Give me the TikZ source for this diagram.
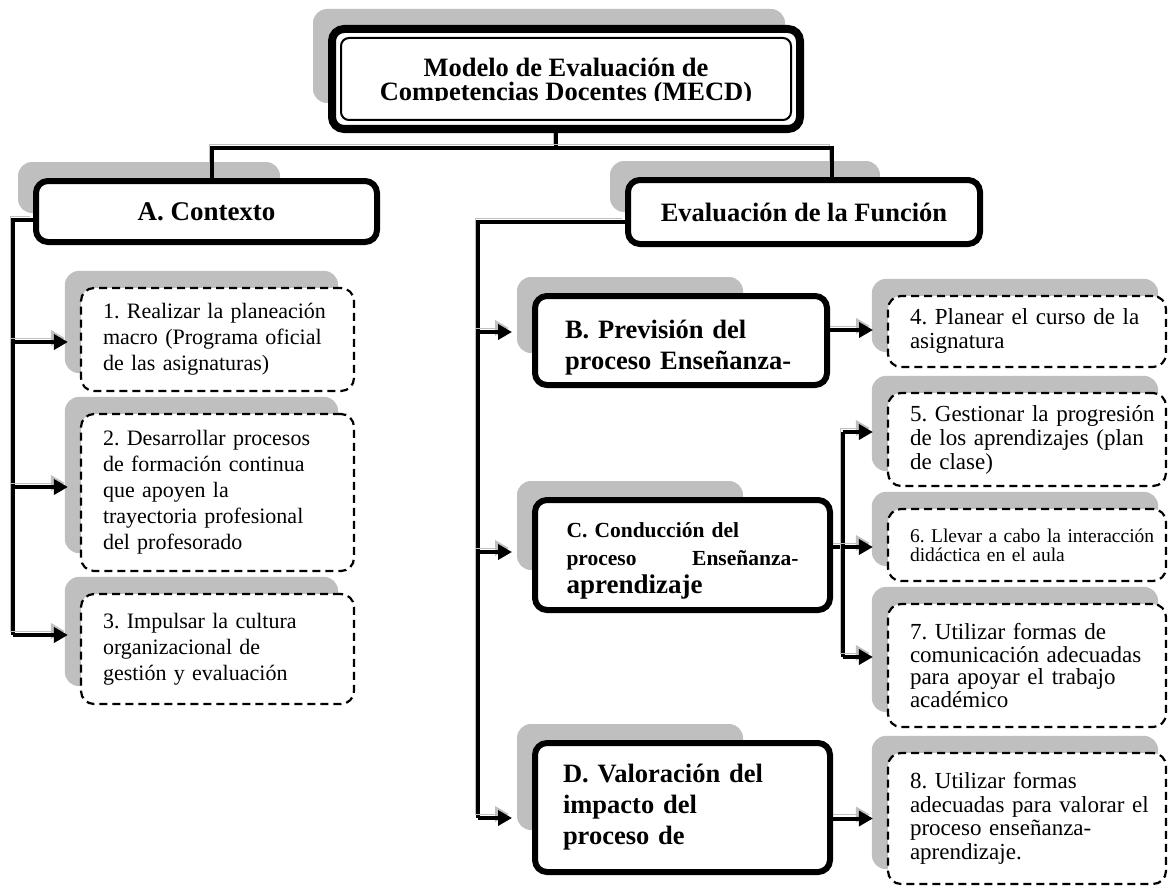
\documentclass[tikz,border=0pt]{standalone}
\usepackage{fontspec}
\setmainfont{Liberation Serif}
\usepackage{xcolor}
\usetikzlibrary{calc}
\usetikzlibrary{arrows.meta}
\usetikzlibrary{backgrounds}
\frenchspacing
\hyphenpenalty=10000
\definecolor{shadegray}{HTML}{BFBFBF}
\tikzstyle{headbox} = [draw=black, fill=white, line width=6pt,
rectangle, rounded corners=12pt, inner sep=0pt, align=left]
\tikzstyle{itembox} = [draw=black, fill=white, line width=2.2pt, dash pattern=on 8pt off 5pt,
rectangle, rounded corners=13pt, inner sep=0pt, inner xsep=8pt, align=left,
execute at begin node={\leftskip=14pt}]
\tikzstyle{link} = [draw=black, line width=4pt,
preaction={draw=shadegray, transform canvas={shift={(-3pt,4pt)}}}]
\tikzstyle{arrowlink} = [link, -{Triangle[length=14pt,width=15pt]}]
\newcommand{\boxshade}[3]{\fill[shadegray, rounded corners=14pt]
  ($(#1.north west)+(-15,-16)$) rectangle ($(#1.south east)+(-#2,-#3)$);}

\begin{document}
\begin{tikzpicture}[x=1pt, y=-1pt]
    \useasboundingbox (0,0) rectangle (1169,888);
    % title
    \node[headbox, line width=8pt, minimum width=468pt, minimum height=100pt] (mecd) at (566,79) {};
    \draw[line width=2pt, rounded corners=8pt] ($(mecd.north west)+(13,13)$) rectangle ($(mecd.south east)+(-13,-13)$);
    \begin{scope}
        \clip ($(mecd.north west)+(15,15)$) rectangle ($(mecd.east)+(-15,22)$);
        \node[align=center, font=\bfseries\fontsize{26.5}{24}\selectfont] (mecdtext) at (566,82)
          {Modelo de Evaluación de\\Competencias Docentes (MECD)};
    \end{scope}
    % main branches
    \node[headbox, minimum width=341pt, minimum height=61pt, font=\bfseries\fontsize{27}{30}\selectfont] (ctx) at (206.5,211.5) {A. Contexto};
    \node[headbox, minimum width=352pt, minimum height=64pt, font=\bfseries\fontsize{26.5}{30}\selectfont] (eval) at (804,212) {Evaluación de la Función};
    \node[headbox, minimum width=292pt, minimum height=89pt, text width=232pt,
      font=\bfseries\fontsize{26.5}{31}\selectfont] (prev) at (681,340.5) {\rule{0pt}{33pt}B. Previsión del\\proceso Enseñanza-};
    \node[headbox, minimum width=295pt, minimum height=110pt, text width=232pt,
      font=\bfseries\fontsize{21.5}{28}\selectfont] (cond) at (682.5,555) {\rule{0pt}{26pt}C. Conducción del\\proceso\hfill Enseñanza-\\\fontsize{27}{28}\selectfont aprendizaje};
    \node[headbox, minimum width=295pt, minimum height=129pt, text width=239pt,
      font=\bfseries\fontsize{26.5}{31}\selectfont] (val) at (682.5,807.5) {D. Valoración del\\impacto del\\proceso de};
    % competencias
    \tikzset{every node/.append style={font=\fontsize{22}{26}\selectfont}}
    \node[itembox, minimum width=273pt, minimum height=103pt, text width=257pt] (i1) at (217.5,339.5)
      {1. Realizar la planeación\\macro (Programa oficial\\de las asignaturas)};
    \node[itembox, minimum width=273pt, minimum height=157pt, text width=257pt] (i2) at (217.5,492.5)
      {2. Desarrollar procesos\\de formación continua\\que apoyen la\\trayectoria profesional\\del profesorado};
    \node[itembox, minimum width=273pt, minimum height=110pt, text width=257pt] (i3) at (217.5,649)
      {3. Impulsar la cultura\\organizacional de\\gestión y evaluación};
    \node[itembox, minimum width=278pt, minimum height=71pt, text width=262pt,
      font=\fontsize{23}{24}\selectfont] (i4) at (1027,331.5) {4. Planear el curso de la\\asignatura};
    \node[itembox, minimum width=278pt, minimum height=93pt, text width=262pt,
      font=\fontsize{23}{24}\selectfont] (i5) at (1027,439.5) {5. Gestionar la progresión\\de los aprendizajes (plan\\de clase)};
    \node[itembox, minimum width=278pt, minimum height=72pt, text width=262pt,
      font=\fontsize{19.5}{19}\selectfont] (i6) at (1027,545) {6. Llevar a cabo la interacción\\didáctica en el aula};
    \node[itembox, minimum width=278pt, minimum height=123pt, text width=262pt,
      font=\fontsize{23}{22.5}\selectfont] (i7) at (1027,665.5) {7. Utilizar formas de\\comunicación adecuadas\\para apoyar el trabajo\\académico};
    \node[itembox, minimum width=278pt, minimum height=131pt, text width=262pt,
      font=\fontsize{23}{23.5}\selectfont] (i8) at (1027,818.5) {8. Utilizar formas\\adecuadas para valorar el\\proceso enseñanza-\\aprendizaje.};

    \begin{scope}[on background layer]
        \boxshade{mecd}{19}{30}
        \boxshade{ctx}{100}{32}
        \boxshade{eval}{103}{35}
        \boxshade{prev}{87}{35}
        \boxshade{cond}{90}{43}
        \boxshade{val}{90}{45}
        \foreach \n in {i1,i2,i3} {\boxshade{\n}{17}{19}}
        \foreach \n in {i4,i5,i6,i7,i8} {\boxshade{\n}{9}{16}}
        % tree
        \coordinate (hub) at (556,148);
        \coordinate (busA) at (212,148);
        \coordinate (busE) at (832,148);
        \draw[link] (hub |- mecd.south) -- (hub);
        \draw[link] (busA |- ctx.north) -- (busA) -- (busE) -- (busE |- eval.north);
        % branch A
        \coordinate (spineA) at (13,220);
        \coordinate (rowA1) at (13,342);
        \coordinate (rowA2) at (13,487);
        \coordinate (rowA3) at (13,635);
        \draw[link] (ctx.west |- spineA) -- (spineA) -- (rowA3);
        \draw[arrowlink, shorten >=12pt] (rowA1) -- (rowA1 -| i1.west);
        \draw[arrowlink, shorten >=12pt] (rowA2) -- (rowA2 -| i2.west);
        \draw[arrowlink, shorten >=12pt] (rowA3) -- (rowA3 -| i3.west);
        % branch funcion
        \coordinate (spineE) at (478,222);
        \coordinate (rowB) at (478,332);
        \coordinate (rowC) at (478,552);
        \coordinate (rowD) at (478,818);
        \draw[link] (eval.west |- spineE) -- (spineE) -- (rowD);
        \draw[arrowlink, shorten >=20pt] (rowB) -- (rowB -| prev.west);
        \draw[arrowlink, shorten >=20pt] (rowC) -- (rowC -| cond.west);
        \draw[arrowlink, shorten >=20pt] (rowD) -- (rowD -| val.west);
        % sub items
        \coordinate (row4) at (887,330);
        \draw[arrowlink, shorten >=14pt] (prev.east |- row4) -- (row4);
        \coordinate (forkC) at (843,547);
        \coordinate (row5) at (843,432);
        \coordinate (row7) at (843,657);
        \draw[link] (cond.east |- forkC) -- (forkC);
        \draw[link] (row5) -- (row7);
        \draw[arrowlink, shorten >=14pt] (row5) -- (row5 -| i5.west);
        \draw[arrowlink, shorten >=14pt] (forkC) -- (forkC -| i6.west);
        \draw[arrowlink, shorten >=14pt] (row7) -- (row7 -| i7.west);
        \draw[arrowlink, shorten >=14pt] (val.east |- i8.west) -- (i8.west);
    \end{scope}
\end{tikzpicture}
\end{document}
